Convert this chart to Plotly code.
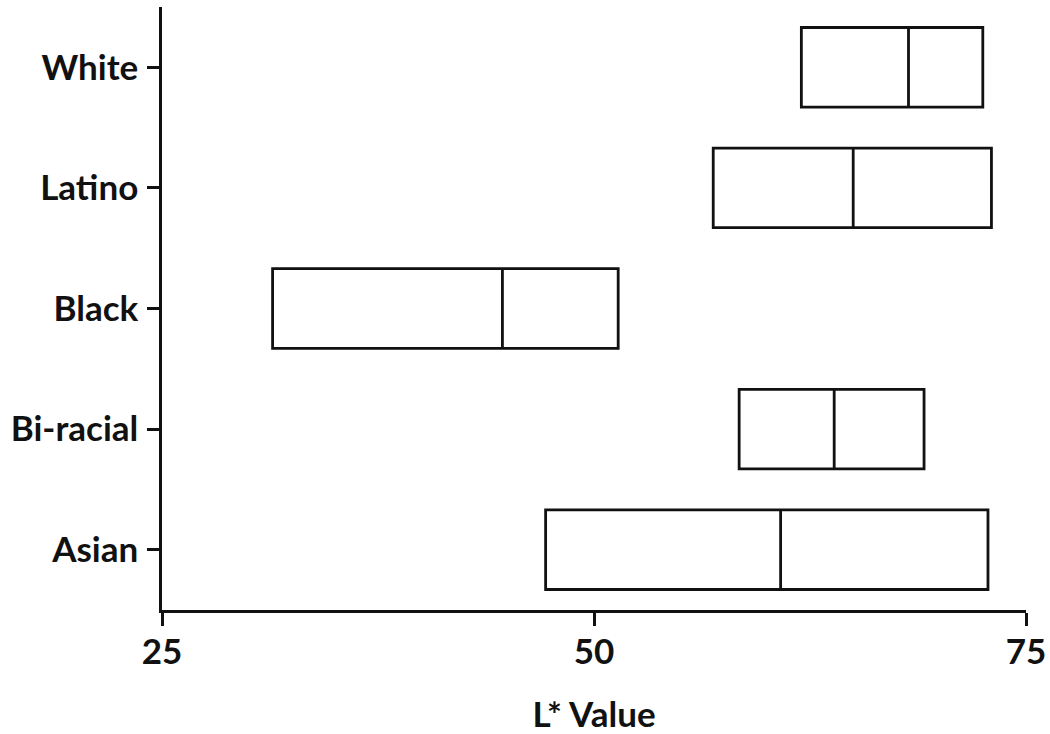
import plotly.graph_objects as go

# L* value distribution per group (no whiskers, just quartile boxes)
groups = ["Asian", "Bi-racial", "Black", "Latino", "White"]
q1 = [47.2, 58.4, 31.4, 56.9, 62.0]
median = [60.8, 63.9, 44.7, 65.0, 68.2]
q3 = [72.8, 69.1, 51.4, 73.0, 72.5]

FONT = "Lato"
SIZE = 35

fig = go.Figure()
fig.add_trace(go.Box(
    y=groups, q1=q1, median=median, q3=q3,
    lowerfence=q1, upperfence=q3,
    orientation="h", width=0.66, whiskerwidth=0,
    fillcolor="white", line=dict(color="#111111", width=2.8),
    boxpoints=False, showlegend=False,
))

fig.update_layout(
    width=1050, height=734,
    paper_bgcolor="white", plot_bgcolor="white",
    margin=dict(l=162, r=24, t=7, b=124),
    font=dict(family=FONT, size=SIZE, color="#111111"),
)
fig.update_xaxes(
    range=[25, 75], tickvals=[25, 50, 75], automargin=False,
    showline=True, linecolor="#111111", linewidth=2.5,
    ticks="outside", ticklen=13, tickwidth=2.5, tickcolor="#111111",
    showgrid=False, zeroline=False, ticklabelstandoff=-4,
    tickfont=dict(family=FONT, size=SIZE, weight="bold"),
    title=dict(text="L* Value", font=dict(family=FONT, size=SIZE, weight="bold"), standoff=33),
)
fig.update_yaxes(
    type="category", categoryorder="array", categoryarray=groups,
    range=[-0.5, 4.5], automargin=False,
    showline=True, linecolor="#111111", linewidth=2.5,
    ticks="outside", ticklen=12, tickwidth=2.5, tickcolor="#111111",
    showgrid=False, zeroline=False, ticklabelstandoff=2,
    tickfont=dict(family=FONT, size=SIZE, weight="bold"),
)

# the page body has a default 8px margin; drop it so the figure fills the window
fig.write_html("out.html", config={"displayModeBar": False},
               post_script="document.body.style.margin='0';")
